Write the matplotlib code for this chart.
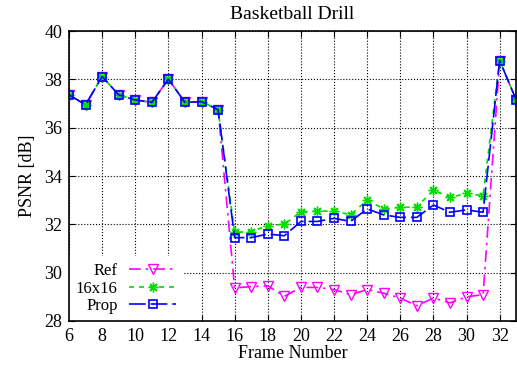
import matplotlib.pyplot as plt

plt.rcParams['font.family'] = ['Liberation Serif', 'DejaVu Serif']
plt.rcParams['font.size'] = 13

frames = list(range(6, 34))

# PSNR [dB] per frame
prop = [37.36, 36.95, 38.12, 37.36, 37.15, 37.05, 38.01, 37.05, 37.08, 36.75,
        31.45, 31.45, 31.60, 31.53, 32.12, 32.12, 32.25, 32.12, 32.64, 32.39,
        32.29, 32.29, 32.80, 32.50, 32.60, 32.50, 38.78, 37.15]
b16 = [37.36, 36.95, 38.12, 37.36, 37.15, 37.05, 38.01, 37.05, 37.08, 36.75,
       31.67, 31.70, 31.95, 32.00, 32.52, 32.55, 32.55, 32.40, 33.00, 32.64,
       32.70, 32.72, 33.42, 33.12, 33.28, 33.19, 38.78, 37.15]
ref = [37.36, 36.95, 38.12, 37.36, 37.15, 37.05, 38.01, 37.05, 37.08, 36.75,
       29.37, 29.42, 29.46, 29.02, 29.39, 29.39, 29.30, 29.09, 29.30, 29.15,
       28.95, 28.63, 28.95, 28.75, 29.00, 29.09, 38.78, 37.15]

fig = plt.figure(figsize=(5.17, 3.66), dpi=100)
ax = fig.add_axes([0.1335, 0.123, 0.865, 0.792])

ax.plot(frames, ref, color='magenta', lw=1.2, dashes=(7, 3, 1.5, 3),
        marker='v', ms=6.5, mfc='none', mec='magenta', mew=1.0, label='Ref')
ax.plot(frames, b16, color='#00dd00', lw=1.2, dashes=(3, 3),
        marker=(8, 2, 0), ms=7, mec='#00dd00', mew=1.0, label='16x16')
ax.plot(frames, prop, color='blue', lw=1.2, dashes=(10, 3),
        marker='s', ms=6, mfc='none', mec='blue', mew=1.2, label='Prop')

ax.set_xlim(6, 33)
ax.set_ylim(28, 40)
ax.set_xticks(range(6, 33, 2))
ax.set_yticks(range(28, 41, 2))
ax.tick_params(direction='in', top=True, right=True, length=4, pad=5)
ax.grid(True, color='black', linestyle=':', linewidth=0.8)
for s in ax.spines.values():
    s.set_linewidth(1.2)
    s.set_zorder(10)

ax.set_title('Basketball Drill', fontsize=14, pad=9)
ax.set_xlabel('Frame Number', labelpad=0)
ax.set_ylabel('PSNR [dB]', labelpad=6)

leg = ax.legend(loc='lower left', bbox_to_anchor=(0.0, 0.0), markerfirst=False,
                handlelength=2.8, frameon=True, framealpha=1, edgecolor='none',
                fancybox=False, borderaxespad=0.0, borderpad=0.4,
                labelspacing=0.1, handletextpad=0.7, fontsize=12)

fig.savefig('out.png', dpi=100)
